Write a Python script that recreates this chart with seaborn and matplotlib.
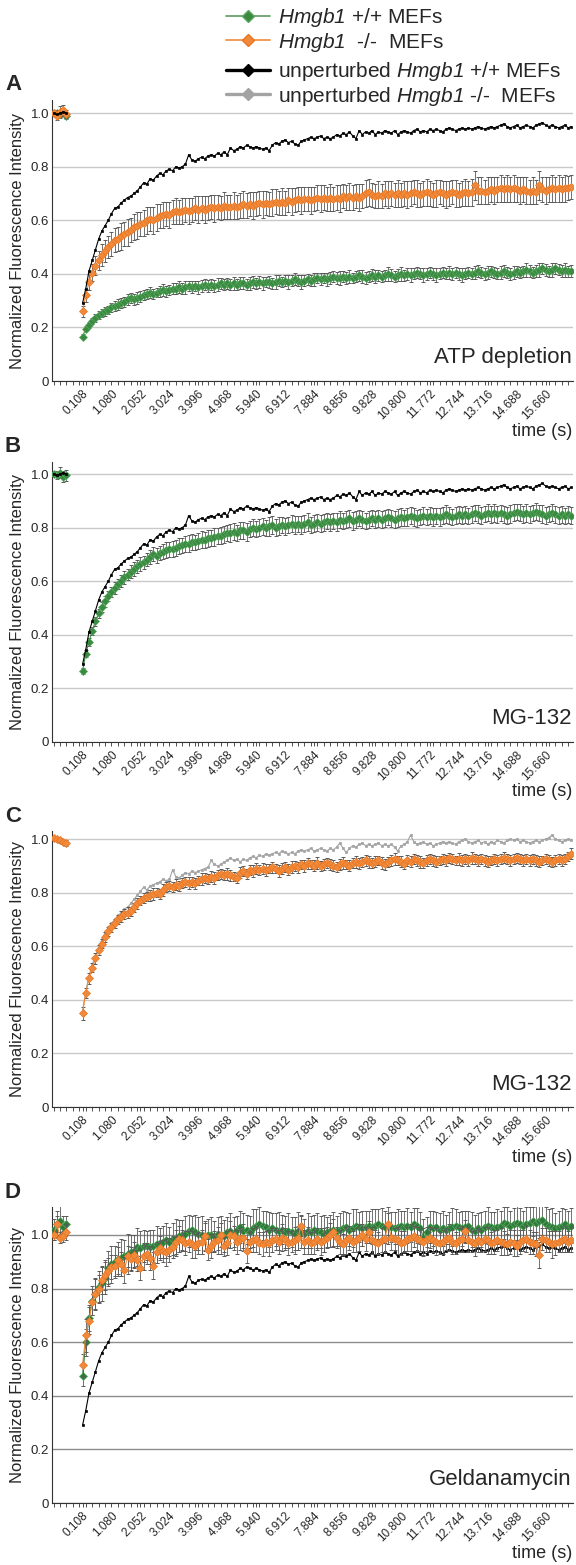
import numpy as np
import matplotlib
matplotlib.use("Agg")
import matplotlib.pyplot as plt
import seaborn as sns
from matplotlib.lines import Line2D

# ---- data ----
TICK_LABELS = ["0.108", "1.080", "2.052", "3.024", "3.996", "4.968", "5.940", "6.912", "7.884",
               "8.856", "9.828", "10.800", "11.772", "12.744", "13.716", "14.688", "15.660"]

# unperturbed Hmgb1 +/+ (same curve in A, B, D)
BLACK_PRE = [1.0, 0.995, 1.0, 1.005, 1.0]
BLACK = [0.29, 0.345, 0.41, 0.45, 0.49, 0.53, 0.56, 0.58, 0.60, 0.625,
         0.645, 0.65, 0.665, 0.675, 0.685, 0.69, 0.70, 0.71, 0.725, 0.74,
         0.735, 0.755, 0.75, 0.765, 0.775, 0.77, 0.785, 0.79, 0.785, 0.80,
         0.795, 0.80, 0.81, 0.845, 0.825, 0.82, 0.83, 0.835, 0.83, 0.84,
         0.845, 0.84, 0.85, 0.845, 0.855, 0.845, 0.87, 0.86, 0.865, 0.875,
         0.87, 0.88, 0.875, 0.87, 0.875, 0.87, 0.865, 0.87, 0.86, 0.88,
         0.89, 0.885, 0.895, 0.90, 0.89, 0.895, 0.885, 0.88, 0.895, 0.90,
         0.905, 0.91, 0.905, 0.91, 0.915, 0.905, 0.91, 0.905, 0.91, 0.92,
         0.915, 0.925, 0.92, 0.93, 0.915, 0.905, 0.935, 0.92, 0.93, 0.925,
         0.935, 0.92, 0.93, 0.925, 0.935, 0.93, 0.925, 0.935, 0.92, 0.93,
         0.935, 0.93, 0.925, 0.935, 0.94, 0.93, 0.935, 0.93, 0.94, 0.935,
         0.94, 0.935, 0.93, 0.94, 0.945, 0.94, 0.935, 0.94, 0.945, 0.94,
         0.945, 0.94, 0.945, 0.95, 0.945, 0.94, 0.945, 0.95, 0.945, 0.95,
         0.955, 0.96, 0.95, 0.945, 0.95, 0.955, 0.945, 0.95, 0.955, 0.95,
         0.945, 0.955, 0.96, 0.965, 0.955, 0.95, 0.955, 0.95, 0.945, 0.95,
         0.955, 0.945, 0.95]

# A: ATP depletion
ORANGE_A_PRE = [1.0, 0.99, 1.005, 1.01, 0.995]
ORANGE_A_PRE_ERR = [0.01, 0.015, 0.02, 0.02, 0.015]
ORANGE_A = [0.26, 0.32, 0.37, 0.405, 0.43, 0.45, 0.47, 0.485, 0.50, 0.51,
            0.525, 0.53, 0.54, 0.55, 0.555, 0.565, 0.575, 0.58, 0.585, 0.59,
            0.60, 0.605, 0.60, 0.61, 0.615, 0.62, 0.625, 0.62, 0.63, 0.635,
            0.63, 0.635, 0.64, 0.635, 0.64, 0.645, 0.64, 0.645, 0.64, 0.645,
            0.65, 0.645, 0.65, 0.645, 0.655, 0.65, 0.65, 0.655, 0.65, 0.655,
            0.66, 0.655, 0.66, 0.655, 0.66, 0.665, 0.66, 0.665, 0.66, 0.665,
            0.67, 0.665, 0.67, 0.665, 0.675, 0.67, 0.675, 0.68, 0.675, 0.68,
            0.68, 0.675, 0.68, 0.685, 0.68, 0.685, 0.68, 0.685, 0.68, 0.685,
            0.68, 0.69, 0.685, 0.69, 0.685, 0.69, 0.685, 0.69, 0.70, 0.705,
            0.695, 0.69, 0.695, 0.69, 0.70, 0.695, 0.70, 0.695, 0.70, 0.695,
            0.70, 0.695, 0.70, 0.705, 0.70, 0.695, 0.70, 0.705, 0.70, 0.695,
            0.70, 0.705, 0.70, 0.695, 0.70, 0.705, 0.70, 0.695, 0.70, 0.705,
            0.70, 0.705, 0.73, 0.71, 0.71, 0.705, 0.71, 0.715, 0.71, 0.715,
            0.72, 0.715, 0.72, 0.715, 0.72, 0.715, 0.71, 0.715, 0.71, 0.705,
            0.71, 0.705, 0.73, 0.715, 0.71, 0.715, 0.72, 0.715, 0.72, 0.715,
            0.72, 0.72, 0.725]
ORANGE_A_ERR = [0.02, 0.025, 0.03, 0.03, 0.035, 0.035, 0.04, 0.04, 0.04, 0.045,
                0.045, 0.045, 0.05, 0.045, 0.05, 0.045, 0.05, 0.05, 0.045, 0.05,
                0.05, 0.045, 0.05, 0.05, 0.045, 0.05, 0.045, 0.05, 0.045, 0.05,
                0.045, 0.05, 0.045, 0.05, 0.045, 0.045, 0.05, 0.045, 0.05, 0.045,
                0.045, 0.05, 0.045, 0.045, 0.05, 0.045, 0.045, 0.05, 0.045, 0.045,
                0.05, 0.045, 0.045, 0.05, 0.045, 0.045, 0.05, 0.045, 0.045, 0.05,
                0.045, 0.045, 0.05, 0.045, 0.045, 0.05, 0.045, 0.045, 0.05, 0.045,
                0.045, 0.05, 0.045, 0.045, 0.05, 0.045, 0.045, 0.05, 0.045, 0.045,
                0.05, 0.045, 0.045, 0.05, 0.045, 0.045, 0.05, 0.045, 0.05, 0.05,
                0.045, 0.045, 0.05, 0.045, 0.045, 0.05, 0.045, 0.045, 0.05, 0.045,
                0.045, 0.05, 0.045, 0.045, 0.05, 0.045, 0.045, 0.05, 0.045, 0.045,
                0.05, 0.045, 0.045, 0.05, 0.045, 0.045, 0.05, 0.045, 0.045, 0.05,
                0.045, 0.05, 0.055, 0.05, 0.05, 0.045, 0.05, 0.045, 0.05, 0.045,
                0.05, 0.045, 0.05, 0.045, 0.05, 0.045, 0.05, 0.045, 0.05, 0.045,
                0.05, 0.045, 0.055, 0.045, 0.05, 0.045, 0.05, 0.045, 0.05, 0.045,
                0.05, 0.045, 0.045]
GREEN_A_PRE = [1.0, 1.0, 0.995, 1.005, 0.99]
GREEN_A_PRE_ERR = [0.01, 0.012, 0.015, 0.015, 0.012]
GREEN_A = [0.165, 0.195, 0.21, 0.225, 0.235, 0.245, 0.255, 0.26, 0.265, 0.275,
           0.28, 0.285, 0.29, 0.295, 0.305, 0.31, 0.305, 0.31, 0.315, 0.32,
           0.325, 0.33, 0.325, 0.33, 0.335, 0.34, 0.335, 0.34, 0.345, 0.345,
           0.35, 0.345, 0.35, 0.355, 0.35, 0.355, 0.35, 0.355, 0.36, 0.355,
           0.36, 0.355, 0.36, 0.365, 0.36, 0.365, 0.36, 0.365, 0.36, 0.365,
           0.365, 0.36, 0.365, 0.37, 0.365, 0.37, 0.365, 0.37, 0.37, 0.365,
           0.37, 0.375, 0.37, 0.375, 0.37, 0.375, 0.38, 0.375, 0.37, 0.375,
           0.38, 0.375, 0.38, 0.385, 0.38, 0.385, 0.38, 0.385, 0.39, 0.385,
           0.385, 0.39, 0.385, 0.39, 0.385, 0.39, 0.395, 0.39, 0.385, 0.39,
           0.395, 0.39, 0.395, 0.39, 0.395, 0.40, 0.395, 0.39, 0.395, 0.40,
           0.395, 0.40, 0.395, 0.40, 0.405, 0.40, 0.395, 0.40, 0.405, 0.40,
           0.395, 0.40, 0.405, 0.40, 0.405, 0.40, 0.405, 0.40, 0.395, 0.40,
           0.405, 0.40, 0.405, 0.41, 0.405, 0.40, 0.405, 0.41, 0.405, 0.40,
           0.405, 0.41, 0.405, 0.40, 0.405, 0.41, 0.405, 0.41, 0.415, 0.41,
           0.405, 0.41, 0.415, 0.42, 0.415, 0.41, 0.415, 0.42, 0.415, 0.41,
           0.415, 0.41, 0.41]
GREEN_A_ERR = [0.01, 0.01, 0.012, 0.012, 0.014, 0.015, 0.015, 0.016, 0.016, 0.018,
               0.018, 0.02, 0.018, 0.02, 0.02, 0.018, 0.02, 0.022, 0.02, 0.018,
               0.02, 0.022, 0.02, 0.018, 0.02, 0.022, 0.02, 0.02, 0.022, 0.02,
               0.022, 0.02, 0.025, 0.02, 0.022, 0.02, 0.025, 0.022, 0.02, 0.022,
               0.02, 0.022, 0.025, 0.02, 0.022, 0.02, 0.022, 0.025, 0.02, 0.022,
               0.022, 0.02, 0.025, 0.022, 0.02, 0.022, 0.025, 0.02, 0.022, 0.02,
               0.025, 0.022, 0.02, 0.022, 0.025, 0.02, 0.022, 0.02, 0.025, 0.022,
               0.02, 0.022, 0.025, 0.02, 0.022, 0.02, 0.025, 0.022, 0.02, 0.022,
               0.025, 0.02, 0.022, 0.025, 0.02, 0.022, 0.02, 0.025, 0.022, 0.02,
               0.022, 0.025, 0.02, 0.022, 0.02, 0.025, 0.022, 0.02, 0.022, 0.025,
               0.02, 0.022, 0.025, 0.02, 0.022, 0.02, 0.025, 0.022, 0.02, 0.022,
               0.025, 0.02, 0.022, 0.02, 0.025, 0.022, 0.02, 0.022, 0.025, 0.02,
               0.022, 0.02, 0.025, 0.022, 0.02, 0.022, 0.025, 0.02, 0.022, 0.02,
               0.025, 0.022, 0.02, 0.022, 0.025, 0.02, 0.022, 0.02, 0.025, 0.022,
               0.02, 0.022, 0.025, 0.02, 0.022, 0.02, 0.025, 0.022, 0.02, 0.022,
               0.025, 0.02, 0.022]

# B: MG-132, Hmgb1 +/+
GREEN_B_PRE = [1.0, 0.995, 1.005, 0.99, 0.995]
GREEN_B_PRE_ERR = [0.01, 0.015, 0.02, 0.02, 0.02]
GREEN_B = [0.265, 0.33, 0.375, 0.415, 0.45, 0.48, 0.505, 0.525, 0.545, 0.56,
           0.575, 0.59, 0.60, 0.615, 0.625, 0.635, 0.645, 0.655, 0.665, 0.67,
           0.68, 0.69, 0.70, 0.695, 0.705, 0.71, 0.715, 0.72, 0.72, 0.725,
           0.73, 0.735, 0.74, 0.74, 0.745, 0.745, 0.75, 0.755, 0.755, 0.76,
           0.76, 0.765, 0.77, 0.77, 0.775, 0.78, 0.78, 0.785, 0.78, 0.79,
           0.79, 0.785, 0.795, 0.80, 0.795, 0.80, 0.805, 0.80, 0.805, 0.81,
           0.80, 0.805, 0.81, 0.805, 0.81, 0.815, 0.81, 0.815, 0.81, 0.815,
           0.82, 0.81, 0.815, 0.82, 0.815, 0.82, 0.825, 0.82, 0.825, 0.82,
           0.83, 0.825, 0.83, 0.835, 0.825, 0.83, 0.835, 0.83, 0.825, 0.83,
           0.835, 0.83, 0.835, 0.83, 0.835, 0.84, 0.835, 0.83, 0.835, 0.84,
           0.835, 0.84, 0.845, 0.84, 0.835, 0.84, 0.845, 0.84, 0.845, 0.84,
           0.845, 0.84, 0.845, 0.85, 0.845, 0.84, 0.845, 0.85, 0.845, 0.85,
           0.845, 0.85, 0.855, 0.85, 0.845, 0.85, 0.855, 0.85, 0.855, 0.85,
           0.855, 0.85, 0.845, 0.85, 0.855, 0.86, 0.855, 0.85, 0.855, 0.85,
           0.855, 0.86, 0.855, 0.85, 0.845, 0.85, 0.855, 0.85, 0.845, 0.85,
           0.845, 0.85, 0.845]
GREEN_B_ERR = [0.012, 0.014, 0.015, 0.016, 0.016, 0.018, 0.018, 0.02, 0.02, 0.02,
               0.022, 0.02, 0.022, 0.024, 0.022, 0.024, 0.025, 0.024, 0.025, 0.026,
               0.025, 0.027, 0.026, 0.028, 0.027, 0.028, 0.03, 0.028, 0.03, 0.029,
               0.03, 0.028, 0.03, 0.031, 0.03, 0.029, 0.03, 0.032, 0.03, 0.031,
               0.03, 0.032, 0.03, 0.031, 0.033, 0.03, 0.032, 0.031, 0.03, 0.032,
               0.031, 0.033, 0.03, 0.032, 0.031, 0.033, 0.032, 0.03, 0.035, 0.032,
               0.031, 0.033, 0.03, 0.032, 0.031, 0.033, 0.032, 0.03, 0.032, 0.031,
               0.033, 0.03, 0.032, 0.031, 0.033, 0.032, 0.03, 0.032, 0.031, 0.033,
               0.032, 0.03, 0.032, 0.031, 0.033, 0.032, 0.03, 0.032, 0.031, 0.033,
               0.03, 0.032, 0.031, 0.033, 0.032, 0.03, 0.032, 0.031, 0.033, 0.032,
               0.03, 0.032, 0.031, 0.033, 0.032, 0.03, 0.032, 0.031, 0.033, 0.032,
               0.03, 0.032, 0.031, 0.033, 0.032, 0.03, 0.032, 0.031, 0.033, 0.032,
               0.03, 0.032, 0.031, 0.033, 0.032, 0.03, 0.032, 0.031, 0.033, 0.032,
               0.03, 0.032, 0.031, 0.033, 0.032, 0.03, 0.032, 0.031, 0.033, 0.032,
               0.03, 0.032, 0.031, 0.033, 0.032, 0.03, 0.032, 0.031, 0.033, 0.032,
               0.03, 0.032, 0.031]

# C: MG-132, Hmgb1 -/-
ORANGE_C_PRE = [1.005, 1.0, 0.995, 0.99, 0.985]
ORANGE_C_PRE_ERR = [0.006, 0.006, 0.008, 0.008, 0.01]
ORANGE_C = [0.35, 0.425, 0.48, 0.52, 0.555, 0.585, 0.61, 0.635, 0.655, 0.67,
            0.685, 0.70, 0.71, 0.72, 0.725, 0.73, 0.745, 0.76, 0.77, 0.78,
            0.785, 0.79, 0.795, 0.80, 0.795, 0.81, 0.82, 0.825, 0.82, 0.83,
            0.825, 0.835, 0.84, 0.835, 0.84, 0.835, 0.845, 0.85, 0.855, 0.85,
            0.86, 0.855, 0.865, 0.87, 0.865, 0.87, 0.865, 0.86, 0.855, 0.875,
            0.88, 0.87, 0.885, 0.88, 0.89, 0.885, 0.89, 0.885, 0.89, 0.895,
            0.89, 0.88, 0.89, 0.895, 0.885, 0.895, 0.90, 0.895, 0.905, 0.90,
            0.91, 0.905, 0.90, 0.91, 0.90, 0.905, 0.91, 0.905, 0.90, 0.895,
            0.905, 0.91, 0.905, 0.90, 0.91, 0.915, 0.91, 0.915, 0.92, 0.915,
            0.91, 0.915, 0.92, 0.91, 0.905, 0.915, 0.92, 0.925, 0.92, 0.915,
            0.905, 0.92, 0.915, 0.925, 0.92, 0.915, 0.91, 0.92, 0.925, 0.92,
            0.915, 0.92, 0.925, 0.92, 0.93, 0.925, 0.92, 0.925, 0.92, 0.925,
            0.92, 0.93, 0.925, 0.92, 0.925, 0.92, 0.915, 0.92, 0.925, 0.92,
            0.925, 0.93, 0.925, 0.92, 0.925, 0.93, 0.925, 0.92, 0.925, 0.92,
            0.925, 0.92, 0.915, 0.92, 0.925, 0.92, 0.915, 0.92, 0.925, 0.92,
            0.925, 0.935, 0.945]
ORANGE_C_ERR = [0.025, 0.02, 0.02, 0.018, 0.02, 0.018, 0.016, 0.018, 0.016, 0.018,
                0.016, 0.018, 0.02, 0.018, 0.02, 0.018, 0.016, 0.02, 0.018, 0.02,
                0.018, 0.02, 0.022, 0.018, 0.02, 0.022, 0.018, 0.02, 0.018, 0.022,
                0.02, 0.018, 0.02, 0.022, 0.018, 0.02, 0.018, 0.022, 0.02, 0.018,
                0.02, 0.022, 0.018, 0.02, 0.018, 0.022, 0.02, 0.018, 0.02, 0.022,
                0.018, 0.02, 0.018, 0.022, 0.02, 0.018, 0.02, 0.022, 0.018, 0.02,
                0.018, 0.022, 0.02, 0.018, 0.02, 0.022, 0.018, 0.02, 0.018, 0.022,
                0.02, 0.018, 0.02, 0.022, 0.018, 0.02, 0.018, 0.022, 0.02, 0.018,
                0.02, 0.022, 0.018, 0.02, 0.018, 0.022, 0.02, 0.018, 0.02, 0.022,
                0.018, 0.02, 0.018, 0.022, 0.02, 0.018, 0.02, 0.022, 0.018, 0.02,
                0.018, 0.022, 0.02, 0.018, 0.02, 0.022, 0.018, 0.02, 0.018, 0.022,
                0.02, 0.018, 0.02, 0.022, 0.018, 0.02, 0.018, 0.022, 0.02, 0.018,
                0.02, 0.022, 0.018, 0.02, 0.018, 0.022, 0.02, 0.018, 0.02, 0.022,
                0.018, 0.02, 0.018, 0.022, 0.02, 0.018, 0.02, 0.022, 0.018, 0.02,
                0.018, 0.022, 0.02, 0.018, 0.02, 0.022, 0.018, 0.02, 0.018, 0.022,
                0.02, 0.018, 0.02]
GRAY_C_PRE = [1.0, 1.0, 0.995, 0.995, 0.99]
GRAY_C = [0.36, 0.43, 0.49, 0.53, 0.565, 0.595, 0.625, 0.65, 0.67, 0.685,
          0.70, 0.715, 0.725, 0.74, 0.745, 0.76, 0.775, 0.79, 0.805, 0.82,
          0.81, 0.825, 0.83, 0.835, 0.84, 0.85, 0.845, 0.85, 0.885, 0.86,
          0.855, 0.865, 0.875, 0.87, 0.88, 0.875, 0.88, 0.885, 0.89, 0.895,
          0.92, 0.905, 0.90, 0.905, 0.915, 0.92, 0.93, 0.92, 0.925, 0.915,
          0.925, 0.92, 0.93, 0.935, 0.93, 0.94, 0.935, 0.945, 0.94, 0.945,
          0.95, 0.945, 0.955, 0.95, 0.945, 0.95, 0.945, 0.955, 0.96, 0.955,
          0.96, 0.965, 0.955, 0.96, 0.965, 0.96, 0.955, 0.965, 0.96, 0.97,
          0.985, 0.965, 0.95, 0.965, 0.975, 0.97, 0.98, 0.985, 0.975, 0.98,
          0.975, 0.98, 0.985, 0.975, 0.98, 0.975, 0.98, 0.97, 0.955, 0.975,
          0.98, 0.99, 1.015, 0.99, 0.98, 0.985, 0.99, 0.98, 0.985, 0.975,
          0.98, 0.985, 0.99, 0.985, 0.99, 0.985, 0.98, 0.99, 0.995, 1.0,
          0.99, 0.985, 0.99, 0.995, 0.985, 0.99, 0.98, 0.99, 0.985, 0.995,
          0.99, 0.985, 0.995, 1.0, 0.995, 1.0, 0.99, 0.995, 0.99, 0.985,
          0.99, 0.995, 0.99, 0.995, 1.0, 1.005, 1.015, 1.0, 0.995, 0.99,
          0.995, 1.0, 0.995]

# D: Geldanamycin
GREEN_D_PRE = [1.02, 1.04, 1.05, 1.03, 1.04]
GREEN_D_PRE_ERR = [0.04, 0.05, 0.06, 0.04, 0.03]
GREEN_D = [0.475, 0.60, 0.69, 0.755, 0.78, 0.805, 0.82, 0.84, 0.875, 0.89,
           0.90, 0.91, 0.915, 0.92, 0.93, 0.935, 0.94, 0.955, 0.95, 0.96,
           0.96, 0.955, 0.96, 0.965, 0.97, 0.975, 0.98, 0.975, 0.985, 0.99,
           0.995, 1.0, 1.005, 1.015, 1.02, 1.01, 1.005, 1.0, 0.995, 1.0,
           1.0, 0.995, 1.005, 1.0, 0.995, 1.01, 1.015, 1.005, 1.02, 1.03,
           1.015, 1.02, 1.01, 1.025, 1.035, 1.04, 1.035, 1.03, 1.02, 1.025,
           1.02, 1.015, 1.02, 1.01, 1.015, 1.01, 1.005, 1.015, 1.01, 1.005,
           1.015, 1.01, 1.02, 1.015, 1.01, 1.005, 1.01, 1.015, 1.02, 1.015,
           1.02, 1.025, 1.03, 1.02, 1.025, 1.035, 1.03, 1.025, 1.03, 1.035,
           1.03, 1.035, 1.04, 1.035, 1.03, 1.035, 1.03, 1.025, 1.03, 1.035,
           1.03, 1.035, 1.03, 1.04, 1.035, 1.025, 0.99, 1.01, 1.03, 1.025,
           1.03, 1.02, 1.025, 1.02, 1.025, 1.03, 1.035, 1.03, 1.025, 1.03,
           1.035, 1.02, 1.015, 1.025, 1.02, 1.03, 1.035, 1.03, 1.025, 1.03,
           1.035, 1.045, 1.04, 1.035, 1.04, 1.045, 1.04, 1.035, 1.04, 1.045,
           1.05, 1.045, 1.05, 1.055, 1.04, 1.035, 1.03, 1.025, 1.03, 1.035,
           1.04, 1.03, 1.035]
GREEN_D_ERR = [0.04, 0.05, 0.05, 0.055, 0.06, 0.06, 0.065, 0.06, 0.065, 0.07,
               0.06, 0.065, 0.07, 0.06, 0.075, 0.065, 0.06, 0.07, 0.065, 0.06,
               0.055, 0.065, 0.06, 0.07, 0.055, 0.06, 0.065, 0.055, 0.06, 0.07,
               0.06, 0.055, 0.065, 0.06, 0.05, 0.065, 0.06, 0.07, 0.055, 0.06,
               0.065, 0.055, 0.06, 0.07, 0.06, 0.055, 0.065, 0.06, 0.05, 0.06,
               0.065, 0.055, 0.06, 0.07, 0.06, 0.065, 0.055, 0.06, 0.065, 0.055,
               0.06, 0.07, 0.055, 0.06, 0.065, 0.055, 0.06, 0.07, 0.06, 0.055,
               0.065, 0.06, 0.055, 0.065, 0.06, 0.07, 0.055, 0.06, 0.065, 0.055,
               0.06, 0.065, 0.055, 0.06, 0.07, 0.06, 0.055, 0.065, 0.06, 0.055,
               0.065, 0.06, 0.055, 0.065, 0.06, 0.07, 0.055, 0.06, 0.065, 0.055,
               0.06, 0.065, 0.055, 0.06, 0.065, 0.06, 0.07, 0.055, 0.06, 0.065,
               0.055, 0.06, 0.065, 0.055, 0.06, 0.07, 0.06, 0.055, 0.065, 0.06,
               0.055, 0.065, 0.06, 0.055, 0.065, 0.06, 0.07, 0.055, 0.06, 0.065,
               0.055, 0.06, 0.065, 0.055, 0.06, 0.065, 0.06, 0.055, 0.065, 0.06,
               0.055, 0.065, 0.06, 0.055, 0.065, 0.06, 0.07, 0.055, 0.06, 0.065,
               0.055, 0.06, 0.065]
ORANGE_D_PRE = [1.0, 1.04, 0.99, 0.995, 1.01]
ORANGE_D_PRE_ERR = [0.02, 0.03, 0.02, 0.02, 0.03]
ORANGE_D = [0.515, 0.625, 0.68, 0.75, 0.78, 0.80, 0.83, 0.85, 0.865, 0.88,
            0.885, 0.905, 0.89, 0.87, 0.92, 0.91, 0.925, 0.905, 0.875, 0.92,
            0.93, 0.915, 0.885, 0.935, 0.95, 0.94, 0.935, 0.945, 0.955, 0.975,
            0.985, 0.98, 0.97, 0.975, 0.965, 0.96, 0.97, 0.975, 0.995, 0.945,
            0.96, 0.975, 0.98, 1.0, 0.96, 0.97, 1.0, 0.995, 0.975, 0.985,
            0.99, 0.94, 0.975, 0.98, 0.985, 0.97, 0.965, 0.975, 0.97, 0.98,
            0.985, 0.975, 0.99, 0.985, 0.97, 0.975, 0.98, 0.99, 1.035, 0.975,
            0.98, 0.97, 0.975, 0.985, 0.975, 0.98, 0.99, 1.0, 1.01, 0.99,
            0.975, 0.965, 0.98, 0.99, 0.975, 0.98, 0.99, 1.0, 0.985, 1.01,
            0.98, 0.975, 0.97, 0.98, 0.985, 1.04, 0.99, 0.985, 0.98, 0.97,
            0.975, 0.985, 0.99, 0.995, 0.985, 0.98, 0.975, 0.985, 0.99, 0.98,
            0.975, 0.97, 0.975, 0.985, 0.99, 0.975, 0.97, 0.98, 0.985, 1.015,
            0.98, 0.975, 0.97, 0.98, 0.975, 0.985, 0.98, 0.97, 0.975, 0.98,
            0.975, 0.97, 0.965, 0.975, 0.97, 0.96, 0.975, 0.98, 0.985, 0.975,
            0.97, 0.965, 0.925, 0.985, 0.98, 0.975, 0.965, 0.97, 0.975, 0.98,
            0.985, 0.975, 0.98]
ORANGE_D_ERR = [0.04, 0.06, 0.05, 0.05, 0.055, 0.05, 0.05, 0.055, 0.05, 0.045,
                0.04, 0.05, 0.045, 0.05, 0.04, 0.045, 0.05, 0.04, 0.045, 0.05,
                0.04, 0.045, 0.05, 0.04, 0.045, 0.04, 0.05, 0.045, 0.04, 0.045,
                0.05, 0.04, 0.045, 0.04, 0.05, 0.045, 0.04, 0.045, 0.05, 0.04,
                0.045, 0.04, 0.05, 0.045, 0.04, 0.045, 0.05, 0.04, 0.045, 0.04,
                0.05, 0.045, 0.04, 0.045, 0.05, 0.04, 0.045, 0.04, 0.05, 0.045,
                0.04, 0.045, 0.05, 0.04, 0.045, 0.04, 0.05, 0.045, 0.04, 0.045,
                0.05, 0.04, 0.045, 0.04, 0.05, 0.045, 0.04, 0.045, 0.05, 0.04,
                0.045, 0.04, 0.05, 0.045, 0.04, 0.045, 0.05, 0.04, 0.045, 0.04,
                0.05, 0.045, 0.04, 0.045, 0.05, 0.04, 0.045, 0.04, 0.05, 0.045,
                0.04, 0.045, 0.05, 0.04, 0.045, 0.04, 0.05, 0.045, 0.04, 0.045,
                0.05, 0.04, 0.045, 0.04, 0.05, 0.045, 0.04, 0.045, 0.05, 0.04,
                0.045, 0.04, 0.05, 0.045, 0.04, 0.045, 0.05, 0.04, 0.045, 0.04,
                0.05, 0.045, 0.04, 0.045, 0.05, 0.04, 0.045, 0.04, 0.05, 0.045,
                0.04, 0.045, 0.05, 0.04, 0.045, 0.04, 0.05, 0.045, 0.04, 0.045,
                0.05, 0.04, 0.045]

for name, arr in [("BLACK", BLACK), ("ORANGE_A", ORANGE_A), ("ORANGE_A_ERR", ORANGE_A_ERR),
                  ("GREEN_A", GREEN_A), ("GREEN_A_ERR", GREEN_A_ERR), ("GREEN_B", GREEN_B),
                  ("GREEN_B_ERR", GREEN_B_ERR), ("ORANGE_C", ORANGE_C), ("ORANGE_C_ERR", ORANGE_C_ERR),
                  ("GRAY_C", GRAY_C), ("GREEN_D", GREEN_D), ("GREEN_D_ERR", GREEN_D_ERR),
                  ("ORANGE_D", ORANGE_D), ("ORANGE_D_ERR", ORANGE_D_ERR)]:
    if len(arr) != len(BLACK):
        raise ValueError(f"{name} has {len(arr)} values, expected {len(BLACK)}")

# ---- layout / style ----
N_PRE = 5
POST_START = 9
N_CAT = POST_START + len(BLACK)
pre_x = np.arange(N_PRE)
post_x = np.arange(POST_START, N_CAT)
label_pos = POST_START + 9 * np.arange(len(TICK_LABELS))

GREEN = "#3b8a42"
GREEN_EDGE = "#5aa860"
ORANGE = "#f08a3a"
ORANGE_EDGE = "#e87422"
GRAY = "#a3a3a3"
ECOL = "#5a5a5a"

sns.set_theme(style="white")
plt.rcParams["font.family"] = ["Liberation Sans", "DejaVu Sans"]
# \mathrm is used only for the gene name, so point it at the italic face
plt.rcParams["mathtext.fontset"] = "custom"
plt.rcParams["mathtext.rm"] = "Liberation Sans:italic"
plt.rcParams["mathtext.it"] = "Liberation Sans:italic"

W, H = 576, 1565
fig = plt.figure(figsize=(W / 100, H / 100), dpi=100)

panels = [("A", 100, 381, 1.049, "#c9c9c9", "ATP depletion"),
          ("B", 462, 742, 1.045, "#c9c9c9", "MG-132"),
          ("C", 831, 1107, 1.03, "#c9c9c9", "MG-132"),
          ("D", 1207, 1503, 1.104, "#8c8c8c", "Geldanamycin")]
LEFT, RIGHT = 52, 573


def draw(ax, pre, post, color, mec, ms, lw, marker="D", pre_err=None, post_err=None, z=3):
    for xs, ys, es in ((pre_x, pre, pre_err), (post_x, post, post_err)):
        if es is not None:
            ax.errorbar(xs, ys, yerr=es, fmt="none", ecolor=ECOL, elinewidth=0.6,
                        capsize=1.5, capthick=0.7, zorder=z - 0.5)
        sns.lineplot(x=xs, y=ys, ax=ax, color=color, lw=lw, marker=marker, markersize=ms,
                     markeredgecolor=mec, markeredgewidth=0.5, zorder=z, legend=False)


axes = []
for letter, top, bot, ymax, gcol, note in panels:
    ax = fig.add_axes([LEFT / W, 1 - bot / H, (RIGHT - LEFT) / W, (bot - top) / H])
    axes.append(ax)
    ax.set_xlim(-0.5, N_CAT - 0.5)
    ax.set_ylim(0, ymax)
    ax.set_yticks([0, 0.2, 0.4, 0.6, 0.8, 1.0])
    ax.set_yticklabels(["0", "0.2", "0.4", "0.6", "0.8", "1.0"])
    ax.yaxis.grid(True, color=gcol, lw=1.0)
    ax.xaxis.grid(False)
    ax.set_axisbelow(True)
    ax.set_xticks(label_pos)
    ax.set_xticklabels(TICK_LABELS, rotation=45, ha="right", rotation_mode="anchor", fontsize=8.5)
    ax.set_xticks(np.arange(0, N_CAT, 2), minor=True)
    ax.tick_params(axis="x", which="both", direction="out", length=3, width=0.6,
                   color="#333333", pad=2, bottom=True)
    ax.tick_params(axis="y", length=0, pad=2, labelsize=9.5)
    for s in ("top", "right"):
        ax.spines[s].set_visible(False)
    for s in ("left", "bottom"):
        ax.spines[s].set_color("#333333")
        ax.spines[s].set_linewidth(0.8)
    ax.set_xlabel("")
    ax.set_ylabel("Normalized Fluorescence Intensity", fontsize=12)
    ax.yaxis.set_label_coords(-0.052, 0.5)
    ax.text(0.998, 0.045, note, transform=ax.transAxes, ha="right", va="bottom", fontsize=16)
    fig.text(5 / W, 1 - (top - 15) / H, letter, fontsize=16, fontweight="bold", va="center", ha="left")
    fig.text(572 / W, 1 - (bot + 50) / H, "time (s)", fontsize=13, ha="right", va="center")

axA, axB, axC, axD = axes

# A
draw(axA, GREEN_A_PRE, GREEN_A, GREEN, GREEN_EDGE, 3.6, 0.8, pre_err=GREEN_A_PRE_ERR, post_err=GREEN_A_ERR)
draw(axA, ORANGE_A_PRE, ORANGE_A, ORANGE, ORANGE_EDGE, 3.6, 0.8, pre_err=ORANGE_A_PRE_ERR, post_err=ORANGE_A_ERR, z=4)
draw(axA, BLACK_PRE, BLACK, "black", "black", 1.6, 0.8, marker="s", z=5)

# B
draw(axB, GREEN_B_PRE, GREEN_B, GREEN, GREEN_EDGE, 3.6, 0.8, pre_err=GREEN_B_PRE_ERR, post_err=GREEN_B_ERR)
draw(axB, BLACK_PRE, BLACK, "black", "black", 1.6, 0.8, marker="s", z=5)

# C
draw(axC, GRAY_C_PRE, GRAY_C, GRAY, GRAY, 1.6, 0.8, marker="s", z=2)
draw(axC, ORANGE_C_PRE, ORANGE_C, ORANGE, ORANGE_EDGE, 3.6, 0.8, pre_err=ORANGE_C_PRE_ERR, post_err=ORANGE_C_ERR, z=4)

# D
draw(axD, BLACK_PRE, BLACK, "black", "black", 1.6, 0.8, marker="s", z=2)
draw(axD, GREEN_D_PRE, GREEN_D, "#2f7a3a", GREEN_EDGE, 3.8, 0.8, pre_err=GREEN_D_PRE_ERR, post_err=GREEN_D_ERR, z=4)
draw(axD, ORANGE_D_PRE, ORANGE_D, ORANGE, ORANGE_EDGE, 3.8, 0.8, pre_err=ORANGE_D_PRE_ERR, post_err=ORANGE_D_ERR, z=5)

# legend
h1 = [Line2D([], [], color="#5c9a5c", lw=1.2, marker="D", ms=6, mfc=GREEN, mec=GREEN_EDGE),
      Line2D([], [], color=ORANGE, lw=1.2, marker="D", ms=6, mfc=ORANGE, mec=ORANGE_EDGE)]
l1 = [r"$\mathrm{Hmgb1}$ +/+ MEFs", r"$\mathrm{Hmgb1}$  -/-  MEFs"]
h2 = [Line2D([], [], color="black", lw=2.4, marker="D", ms=6, mfc="black"),
      Line2D([], [], color=GRAY, lw=2.4, marker="D", ms=6, mfc=GRAY, mec=GRAY)]
l2 = [r"unperturbed $\mathrm{Hmgb1}$ +/+ MEFs", r"unperturbed $\mathrm{Hmgb1}$ -/-  MEFs"]
for hs, ls, ytop in ((h1, l1, 6), (h2, l2, 60)):
    fig.legend(hs, ls, loc="upper left", bbox_to_anchor=(226 / W, 1 - ytop / H), frameon=False,
               fontsize=15, handlelength=2.1, handletextpad=0.4, labelspacing=0.08,
               borderpad=0, borderaxespad=0)

fig.savefig("out.png", dpi=100)
